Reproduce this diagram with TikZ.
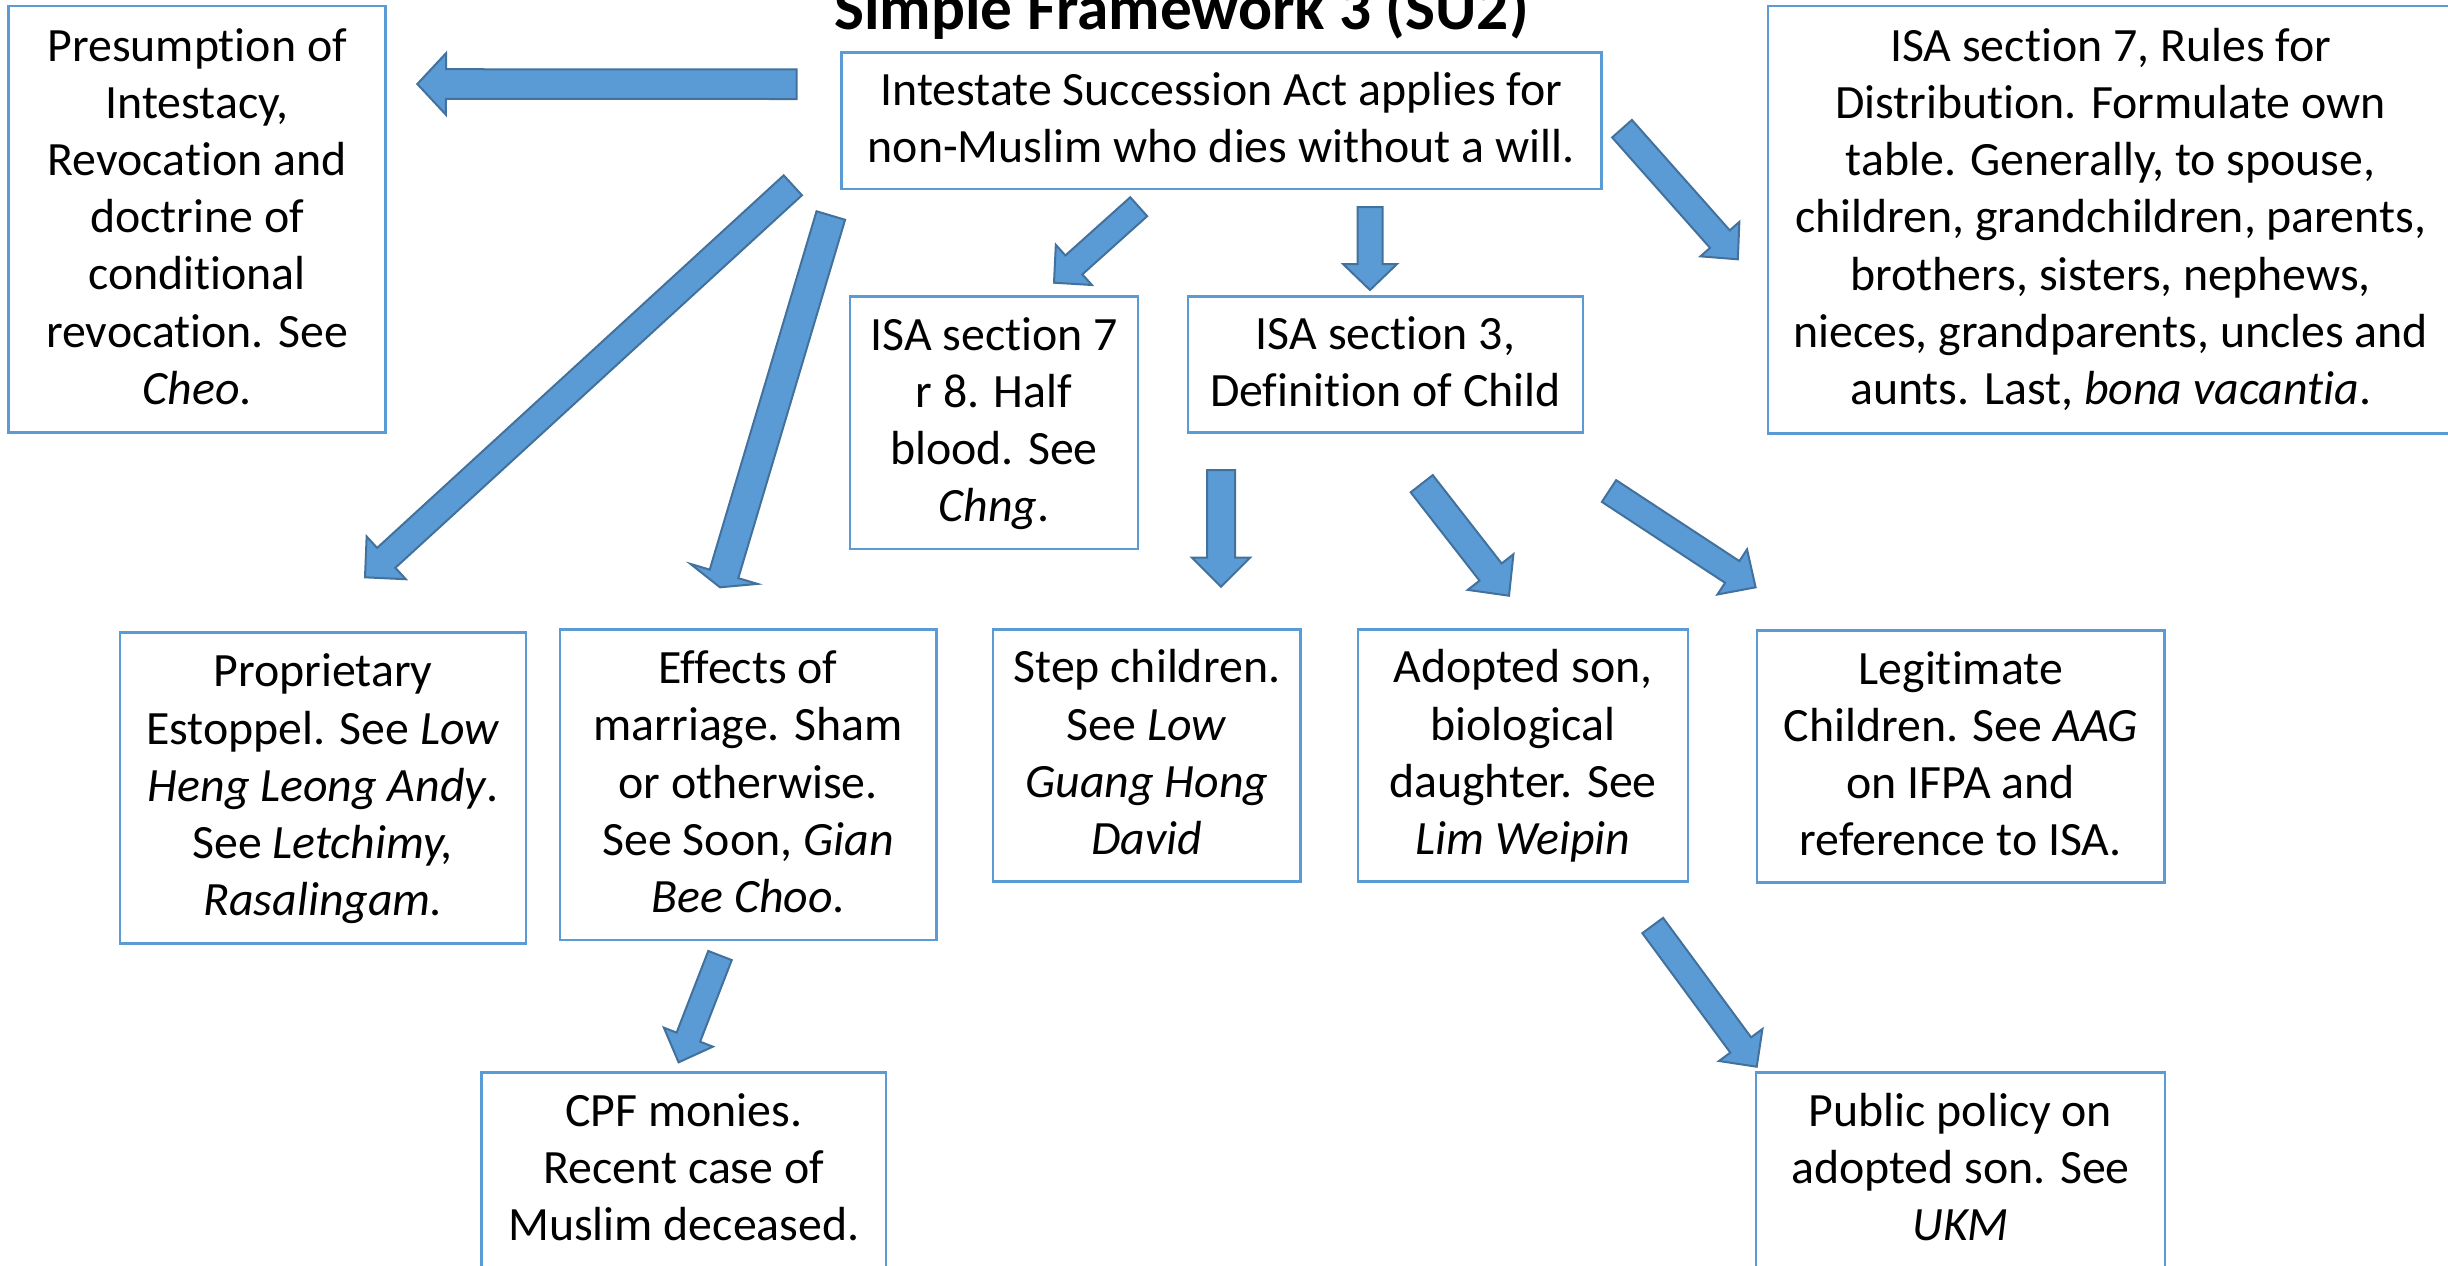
\documentclass[tikz,border=0pt]{standalone}
\usepackage{fontspec}
\setmainfont{Carlito}[Ligatures={NoCommon}]
\usetikzlibrary{calc}
\definecolor{boxblue}{HTML}{5B9BD5}
\definecolor{arrfill}{HTML}{5B9BD5}
\definecolor{arrline}{HTML}{41719C}
\newcommand\lnst{\rule[-4.6pt]{0pt}{17.16pt}}
% tail, tip, shaft half width, head half width, head length
\newcommand\blockarr[5]{%
  \path ($(#2)!#5!(#1)$) coordinate (bh);
  \filldraw[arrowst] ($(#1)!#3!90:(#2)$) -- ($(bh)!#3!90:(#2)$) -- ($(bh)!#4!90:(#2)$)
    -- (#2) -- ($(bh)!#4!-90:(#2)$) -- ($(bh)!#3!-90:(#2)$) -- ($(#1)!#3!-90:(#2)$) -- cycle;
}
\tikzset{
  box/.style={draw=boxblue, line width=0.75pt, fill=white, rectangle, inner sep=0pt,
    align=center, text=black, font=\fontsize{14.35pt}{17.16pt}\selectfont},
  arrowst/.style={fill=arrfill, draw=arrline, line width=0.6pt, line join=miter},
}
\begin{document}
\begin{tikzpicture}[x=0.3pt,y=-0.3pt]
\useasboundingbox (0,0) rectangle (2448,1265);
\clip (0,0) rectangle (2448,1265);

\node[anchor=base, font=\fontsize{19pt}{22pt}\selectfont\bfseries] (title) at (1181.5,29.3) {Simple Framework 3 (SU2)};

\node[box, minimum width=227.94pt, minimum height=40.89pt] (main) at (1221.4,120.85)
  {\lnst Intestate Succession Act applies for\\\lnst non-Muslim who dies without a will.};

\node[box, minimum width=113.13pt, minimum height=128.01pt] (pres) at (197.15,219.35)
  {\lnst Presumption of\\\lnst Intestacy,\\\lnst Revocation and\\\lnst doctrine of\\\lnst conditional\\\lnst revocation. See\\\lnst\textit{Cheo}.};

\node[box, minimum width=205.44pt, minimum height=128.19pt] (isa7) at (2110.6,219.65)
  {\lnst ISA section 7, Rules for\\\lnst Distribution. Formulate own\\\lnst table. Generally, to spouse,\\\lnst children, grandchildren, parents,\\\lnst brothers, sisters, nephews,\\\lnst nieces, grandparents, uncles and\\\lnst aunts. Last, \textit{bona vacantia}.};

\node[box, minimum width=86.4pt, minimum height=75.69pt] (r8) at (994,422.85)
  {\lnst ISA section 7\\\lnst r 8. Half\\\lnst blood. See\\\lnst\textit{Chng}.};

\node[box, minimum width=118.62pt, minimum height=40.8pt] (isa3) at (1385.5,364.7)
  {\lnst ISA section 3,\\\lnst Definition of Child};

\node[box, minimum width=121.77pt, minimum height=93.18pt] (prop) at (323.05,788)
  {\lnst Proprietary\\\lnst Estoppel. See \textit{Low}\\\lnst\textit{Heng Leong Andy}.\\\lnst See \textit{Letchimy,}\\\lnst\textit{Rasalingam.}};

\node[box, minimum width=112.98pt, minimum height=93.09pt] (eff) at (748.1,784.85)
  {\lnst Effects of\\\lnst marriage. Sham\\\lnst or otherwise.\\\lnst See Soon, \textit{Gian}\\\lnst\textit{Bee Choo}.};

\node[box, minimum width=92.31pt, minimum height=75.72pt] (step) at (1146.85,755.5)
  {\lnst Step children.\\\lnst See \textit{Low}\\\lnst\textit{Guang Hong}\\\lnst\textit{David}};

\node[box, minimum width=99pt, minimum height=75.72pt] (adopt) at (1523,755.5)
  {\lnst Adopted son,\\\lnst biological\\\lnst daughter. See\\\lnst\textit{Lim Weipin}};

\node[box, minimum width=122.37pt, minimum height=75.6pt] (legit) at (1960.75,756.7)
  {\lnst Legitimate\\\lnst Children. See \textit{AAG}\\\lnst on IFPA and\\\lnst reference to ISA.};

\node[box, minimum width=121.29pt, minimum height=58.59pt] (cpf) at (683.85,1170.35)
  {\lnst CPF monies.\\\lnst Recent case of\\\lnst Muslim deceased.};

\node[box, minimum width=122.7pt, minimum height=58.59pt] (pub) at (1960.5,1170.35)
  {\lnst Public policy on\\\lnst adopted son. See\\\lnst\textit{UKM}};

% arrow end points
\coordinate (a1s) at (796.7,84.2);   \coordinate (a1e) at (417.3,84);
\coordinate (a2s) at (792.8,185.3);  \coordinate (a2e) at (365,577.3);
\coordinate (a3s) at (830.8,215.5);  \coordinate (a3e) at (720,587.3);
\coordinate (a4s) at (1138.7,206.7); \coordinate (a4e) at (1054,282.7);
\coordinate (a5s) at (1370,207);     \coordinate (a5e) at (1370,290);
\coordinate (a6s) at (1622,128.7);   \coordinate (a6e) at (1737.8,259.3);
\coordinate (a7s) at (1221,470);     \coordinate (a7e) at (1221,586.7);
\coordinate (a8s) at (1421.7,483.7); \coordinate (a8e) at (1509,595.7);
\coordinate (a9s) at (1609,491);     \coordinate (a9e) at (1755.6,587.3);
\coordinate (a10s) at (720,955.5);   \coordinate (a10e) at (678.6,1062.3);
\coordinate (a11s) at (1652.7,925.5);\coordinate (a11e) at (1756.7,1066.7);

\blockarr{a1s}{a1e}{4.44pt}{9.24pt}{8.61pt}
\blockarr{a2s}{a2e}{4.05pt}{8.7pt}{8.64pt}
\blockarr{a3s}{a3e}{4.47pt}{10.5pt}{4.2pt}
\blockarr{a4s}{a4e}{3.81pt}{8.1pt}{8.0pt}
\blockarr{a5s}{a5e}{3.75pt}{8.1pt}{7.8pt}
\blockarr{a6s}{a6e}{3.96pt}{7.8pt}{8.1pt}
\blockarr{a7s}{a7e}{4.2pt}{8.7pt}{8.7pt}
\blockarr{a8s}{a8e}{4.2pt}{8.7pt}{9pt}
\blockarr{a9s}{a9e}{3.9pt}{8.1pt}{8.4pt}
\blockarr{a10s}{a10e}{3.78pt}{7.89pt}{8.1pt}
\blockarr{a11s}{a11e}{3.87pt}{8.1pt}{8.1pt}
\end{tikzpicture}
\end{document}
